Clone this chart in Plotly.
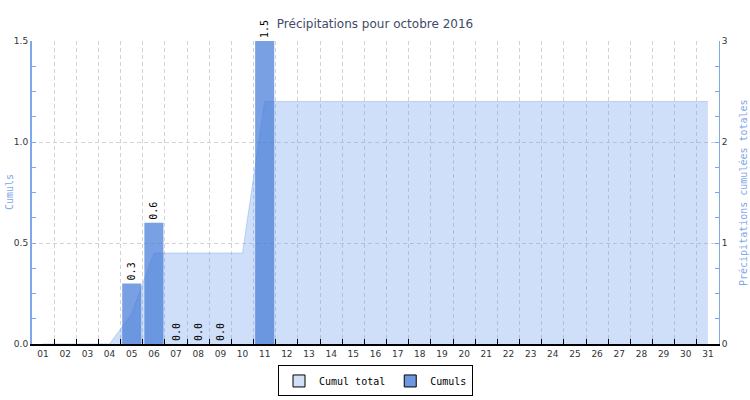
import plotly.graph_objects as go

DAYS = ["{:02d}".format(d) for d in range(1, 32)]
# daily amounts (left axis), None where no reading
CUMULS = [None, None, None, None, 0.3, 0.6, 0.0, 0.0, 0.0, None, 1.5] + [None] * 20
# running total (right axis)
CUMUL_TOTAL = [0, 0, 0, 0, 0.3, 0.9, 0.9, 0.9, 0.9, 0.9] + [2.4] * 21

MONO = "DejaVu Sans Mono"
SANS = "DejaVu Sans"
AXIS_BLUE = "#7fa7ec"
GRID = "#d3d3d3"
AREA_FILL = "rgba(100,150,235,0.3)"
AREA_EDGE = "rgba(150,185,240,0.6)"
BAR_COLOR = "rgba(64,119,215,0.7)"

fig = go.Figure()
fig.add_trace(
    go.Scatter(
        x=DAYS,
        y=CUMUL_TOTAL,
        name="Cumul total",
        mode="lines",
        fill="tozeroy",
        fillcolor=AREA_FILL,
        line={"width": 1, "color": AREA_EDGE},
        showlegend=False,
        yaxis="y",
    )
)
fig.add_trace(
    go.Bar(
        x=DAYS,
        y=CUMULS,
        name="Cumuls",
        marker={"color": BAR_COLOR, "line": {"width": 0}},
        texttemplate="%{y:.1f}",
        textposition="outside",
        textangle=-90,
        textfont={"family": MONO, "size": 10, "color": "#000000"},
        cliponaxis=False,
        width=0.86,
        showlegend=False,
        yaxis="y2",
    )
)

# legend-only entries so both swatches are bordered squares
for name, colour in (("Cumul total", "#d2dff8"), ("Cumuls", "#6d98df")):
    fig.add_trace(
        go.Bar(
            x=[None],
            y=[None],
            name=name,
            marker={"color": colour, "line": {"color": "#000000", "width": 1}},
            yaxis="y2",
        )
    )

fig.update_layout(
    width=750,
    height=400,
    margin={"l": 32, "r": 31, "t": 41, "b": 56, "autoexpand": False},
    paper_bgcolor="white",
    plot_bgcolor="white",
    barmode="overlay",
    title={
        "text": "Précipitations pour octobre 2016",
        "x": 0.5,
        "xanchor": "center",
        "y": 0.94,
        "yref": "container",
        "yanchor": "middle",
        "font": {"family": SANS, "size": 12, "color": "#3e4a68"},
    },
    showlegend=True,
    legend={
        "orientation": "h",
        "x": 0.5,
        "xanchor": "center",
        "y": -0.122,
        "yanchor": "middle",
        "bordercolor": "#000000",
        "borderwidth": 1,
        "itemwidth": 30,
        "font": {"family": MONO, "size": 10, "color": "#000000"},
        "traceorder": "normal",
    },
    xaxis={
        "type": "category",
        "tickson": "boundaries",
        "ticks": "inside",
        "ticklen": 5,
        "tickcolor": "#000000",
        "showline": True,
        "linecolor": "#000000",
        "linewidth": 2,
        "showgrid": True,
        "gridcolor": GRID,
        "griddash": "4px,3px",
        "tickfont": {"family": SANS, "size": 9, "color": "#333333"},
        "automargin": False,
    },
    yaxis={
        "side": "right",
        "range": [0, 3],
        "dtick": 1,
        "ticks": "inside",
        "ticklen": 4,
        "tickcolor": AXIS_BLUE,
        "minor": {"dtick": 0.25, "ticks": "inside", "ticklen": 4, "tickcolor": AXIS_BLUE},
        "showline": True,
        "linecolor": AXIS_BLUE,
        "showgrid": False,
        "zeroline": False,
        "tickfont": {"family": SANS, "size": 9, "color": "#333333"},
        "automargin": False,
    },
    yaxis2={
        "side": "left",
        "overlaying": "y",
        "range": [0, 1.5],
        "dtick": 0.5,
        "tickformat": ".1f",
        "ticks": "inside",
        "ticklen": 4,
        "tickcolor": AXIS_BLUE,
        "minor": {"dtick": 0.125, "ticks": "inside", "ticklen": 4, "tickcolor": AXIS_BLUE},
        "showline": True,
        "linecolor": AXIS_BLUE,
        "linewidth": 2,
        "showgrid": True,
        "gridcolor": GRID,
        "griddash": "4px,3px",
        "zeroline": False,
        "tickfont": {"family": SANS, "size": 9, "color": "#333333"},
        "automargin": False,
    },
    annotations=[
        {
            "text": "Cumuls",
            "xref": "paper",
            "yref": "paper",
            "x": 0,
            "y": 0.5,
            "xshift": -30,
            "textangle": -90,
            "showarrow": False,
            "font": {"family": MONO, "size": 10, "color": AXIS_BLUE},
        },
        {
            "text": "Précipitations cumulées totales",
            "xref": "paper",
            "yref": "paper",
            "x": 1,
            "y": 0.5,
            "xshift": 32,
            "textangle": -90,
            "showarrow": False,
            "font": {"family": MONO, "size": 10, "color": AXIS_BLUE},
        },
    ],
)

# the page's default 8px body margin would push the chart off the window
fig.write_html(
    "out.html",
    config={"displayModeBar": False},
    post_script="document.body.style.margin = '0';",
)
